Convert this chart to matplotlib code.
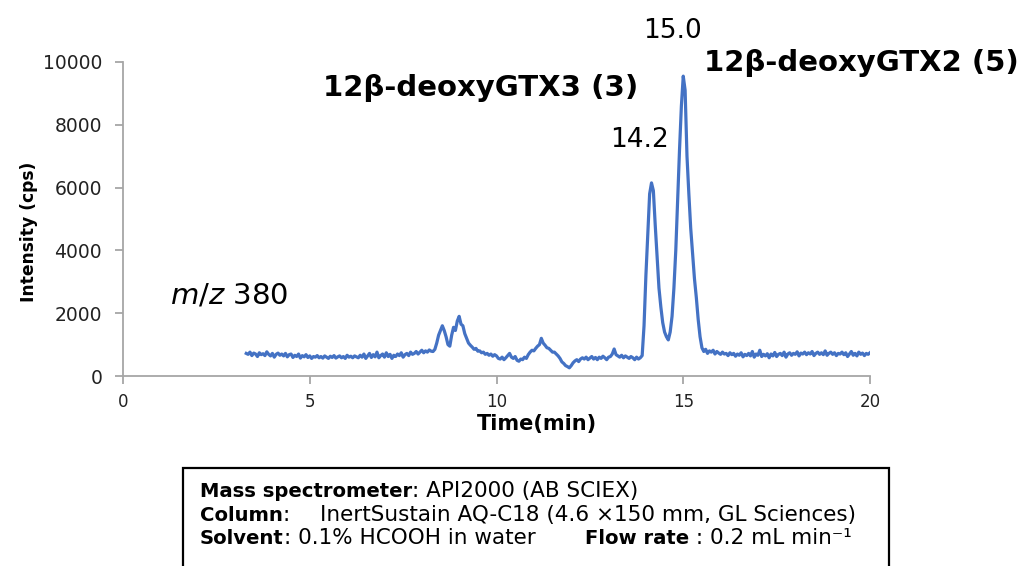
import matplotlib
matplotlib.use("Agg")
import matplotlib.pyplot as plt
import matplotlib.patches as patches
import numpy as np

# intensité (cps) lue sur le chromatogramme, pas de 0.05 min à partir de 3.30 min
t_debut = 3.30
pas = 0.05
intensite = [
    720, 690, 760, 650, 730, 700, 620, 740, 680, 710, 650, 770, 690, 640, 720, 600, 690, 730, 660, 700,      # 3.30
    640, 720, 610, 680, 700, 590, 660, 620, 700, 570, 650, 610, 680, 590, 640, 560, 620, 600, 650, 580,      # 4.30
    620, 570, 640, 600, 560, 630, 590, 650, 570, 610, 640, 580, 620, 560, 660, 600, 630, 580, 640, 610,      # 5.30
    580, 660, 600, 700, 560, 640, 720, 590, 680, 610, 760, 580, 650, 700, 600, 740, 620, 690, 560, 660,      # 6.30
    620, 700, 650, 740, 600, 680, 720, 650, 760, 690, 720, 780, 700, 760, 820, 740, 800, 760, 830, 790,      # 7.30
    780, 850, 1050, 1300, 1450, 1600, 1450, 1250, 1000, 950, 1300, 1550, 1450, 1750, 1900, 1650, 1600, 1350, 1200, 1050,  # 8.30
    980, 920, 850, 880, 790, 800, 740, 760, 690, 720, 660, 700, 630, 680, 640, 560, 540, 600, 520, 580,      # 9.30
    650, 720, 600, 560, 620, 500, 470, 540, 520, 600, 560, 680, 760, 820, 800, 880, 950, 1000, 1200, 1050,   # 10.30
    980, 900, 880, 820, 760, 760, 700, 640, 560, 450, 400, 330, 300, 260, 330, 420, 480, 520, 460, 540,      # 11.30
    580, 540, 600, 520, 570, 620, 540, 590, 520, 600, 560, 630, 580, 520, 600, 620, 700, 860, 680, 640,      # 12.30
    600, 660, 580, 640, 600, 560, 620, 580, 520, 600, 540, 580, 650, 1600, 3200, 4500, 5800, 6150, 5900, 4800,  # 13.30
    3800, 2800, 2200, 1700, 1400, 1250, 1150, 1400, 1900, 2800, 4000, 5600, 7200, 8600, 9550, 9100, 7000, 5800, 4700, 3900,  # 14.30
    3100, 2500, 1800, 1250, 900, 780, 850, 720, 800, 760, 820, 700, 780, 730, 690, 760, 700, 720, 650, 740,  # 15.30
    680, 720, 630, 700, 660, 740, 610, 690, 650, 720, 640, 780, 600, 700, 660, 820, 620, 690, 640, 710,      # 16.30
    580, 700, 640, 750, 620, 690, 720, 650, 760, 600, 700, 740, 660, 720, 690, 770, 640, 730, 700, 760,      # 17.30
    680, 740, 700, 780, 650, 720, 760, 690, 740, 680, 800, 660, 720, 760, 690, 740, 650, 720, 700, 760,      # 18.30
    680, 740, 620, 700, 780, 660, 720, 640, 760, 690, 730, 650, 720, 690, 740,                               # 19.30
]
temps = t_debut + pas * np.arange(len(intensite))

xticks = [0, 5, 10, 15, 20]
yticks = [0, 2000, 4000, 6000, 8000, 10000]

pics = [("14.2", 13.84, 7500), ("15.0", 14.70, 11000)]
composes = [("12β-deoxyGTX3 (3)", 9.58, 9170), ("12β-deoxyGTX2 (5)", 19.76, 9970)]

# (texte, graisse, x de départ en px ou None pour enchaîner)
lignes_cadre = [
    [("Mass spectrometer", "bold", 200), (": API2000 (AB SCIEX)", "normal", None)],
    [("Column", "bold", 200), (":", "normal", None),
     ("InertSustain AQ-C18 (4.6 ×150 mm, GL Sciences)", "normal", 320)],
    [("Solvent", "bold", 200), (": 0.1% HCOOH in water", "normal", None),
     ("Flow rate", "bold", 585), (" : 0.2 mL min⁻¹", "normal", None)],
]

gris = "#a6a6a6"
bleu = "#4472c4"

fig = plt.figure(figsize=(10.24, 5.66), dpi=100)
ax = fig.add_axes([123/1024, 1-376/566, 747/1024, 314/566])

ax.plot(temps, intensite, color=bleu, lw=2.3)

ax.set_xlim(0, 20)
ax.set_ylim(0, 10000)
ax.set_xticks(xticks)
ax.set_yticks(yticks)
for s in ["top", "right"]:
    ax.spines[s].set_visible(False)
for s in ["left", "bottom"]:
    ax.spines[s].set_color(gris)
    ax.spines[s].set_linewidth(1.3)
ax.tick_params(axis="y", length=6, width=1.3, color=gris, labelsize=13.5, pad=9, labelcolor="#222222")
ax.tick_params(axis="x", length=6, width=1.3, color=gris, labelsize=12, pad=6, labelcolor="#222222")

ax.set_xlabel("Time(min)", fontsize=15, fontweight="bold")
ax.xaxis.set_label_coords((537-123)/747, -(414-376)/314)
ax.set_ylabel("Intensity (cps)", fontsize=12.3, fontweight="bold")
ax.yaxis.set_label_coords(-(123-38)/747, (376-232)/314)

ax.text(2.84, 2550, r"$\it{m/z}$ 380", fontsize=21, ha="center", va="center")
for txt, x, y in pics:
    ax.text(x, y, txt, fontsize=19, ha="center", va="center", clip_on=False)
for txt, x, y in composes:
    ax.text(x, y, txt, fontsize=21, fontweight="bold", ha="center", va="center", clip_on=False)

# cadre des conditions
cadre = patches.Rectangle((183/1024, -0.1), (889-183)/1024, 0.1 + 1 - 468/566,
                          transform=fig.transFigure, fill=False, ec="black", lw=1.6)
fig.patches.append(cadre)

rend = fig.canvas.get_renderer()
bases = [497, 521, 544]
tailles = {"bold": 14.1, "normal": 15.5}

for y_px, morceaux in zip(bases, lignes_cadre):
    x = 0
    for s, w, x0 in morceaux:
        if x0 is not None:
            x = x0 / 1024
        t = fig.text(x, 1 - y_px/566, s, fontsize=tailles[w], fontweight=w, va="baseline", ha="left")
        x += t.get_window_extent(rend).width / fig.bbox.width

fig.savefig("out.png", dpi=100)
